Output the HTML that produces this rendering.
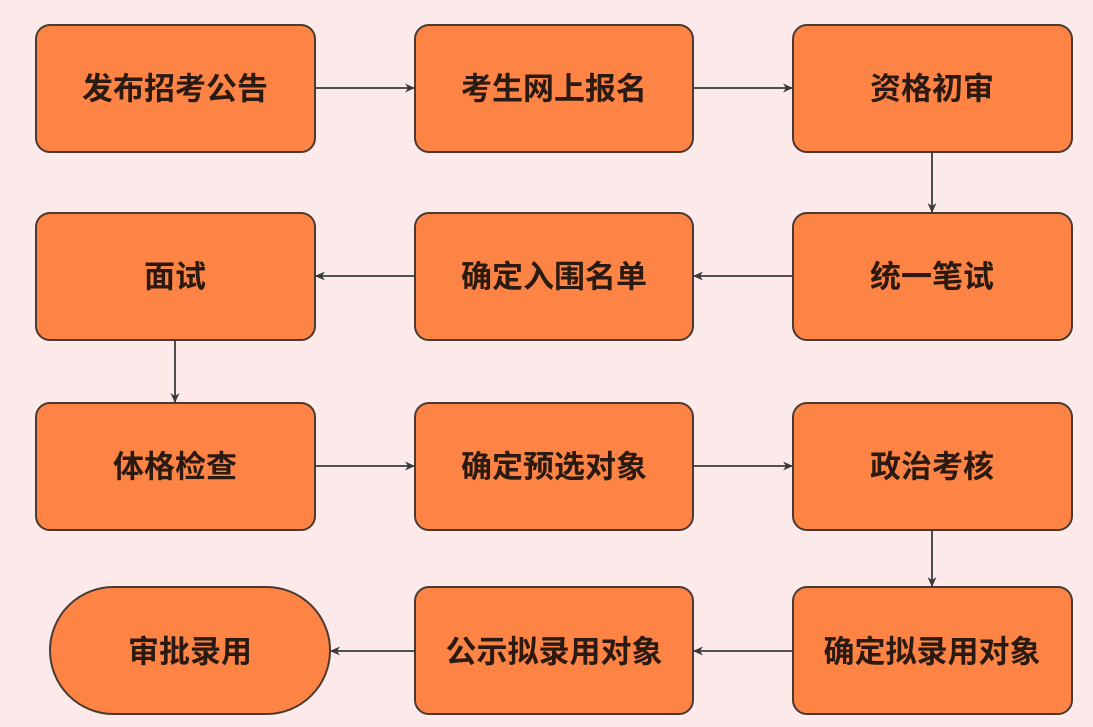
<!DOCTYPE html>
<html><head><meta charset="utf-8"><style>
html,body{margin:0;padding:0;background:#fceaea;}
svg{display:block;}
text{font-family:"Liberation Sans","Noto Sans CJK SC",sans-serif;font-size:31px;font-weight:bold;fill:#2a1a12;text-anchor:middle;dominant-baseline:central;}
</style></head><body>
<svg width="1093" height="727" viewBox="0 0 1093 727" xmlns="http://www.w3.org/2000/svg">
<defs><marker id="a" markerWidth="10" markerHeight="10" refX="9" refY="5" orient="auto" markerUnits="userSpaceOnUse"><path d="M0,0.5 L10,5 L0,9.5 L3,5 Z" fill="#3a3a3a"/></marker></defs>
<rect width="1093" height="727" fill="#fceaea"/>
<g fill="#fd8444" stroke="#4a3a32" stroke-width="2">
<rect x="36" y="25" width="279" height="127" rx="14"/>
<rect x="415" y="25" width="278" height="127" rx="14"/>
<rect x="793" y="25" width="279" height="127" rx="14"/>
<rect x="36" y="213" width="279" height="127" rx="14"/>
<rect x="415" y="213" width="278" height="127" rx="14"/>
<rect x="793" y="213" width="279" height="127" rx="14"/>
<rect x="36" y="403" width="279" height="127" rx="14"/>
<rect x="415" y="403" width="278" height="127" rx="14"/>
<rect x="793" y="403" width="279" height="127" rx="14"/>
<rect x="50" y="587" width="280" height="127" rx="63.5"/>
<rect x="415" y="587" width="278" height="127" rx="14"/>
<rect x="793" y="587" width="279" height="127" rx="14"/>
</g>
<g stroke="#3a3a3a" stroke-width="1.8" fill="none" marker-end="url(#a)">
<line x1="315" y1="88" x2="414" y2="88"/>
<line x1="693" y1="88" x2="792" y2="88"/>
<line x1="932" y1="152" x2="932" y2="212"/>
<line x1="793" y1="276" x2="694" y2="276"/>
<line x1="415" y1="276" x2="316" y2="276"/>
<line x1="175" y1="340" x2="175" y2="402"/>
<line x1="315" y1="466" x2="414" y2="466"/>
<line x1="693" y1="466" x2="792" y2="466"/>
<line x1="932" y1="530" x2="932" y2="586"/>
<line x1="793" y1="651" x2="694" y2="651"/>
<line x1="415" y1="651" x2="331" y2="651"/>
</g>
<text x="175" y="89">发布招考公告</text>
<text x="554" y="89">考生网上报名</text>
<text x="932" y="89">资格初审</text>
<text x="175" y="277">面试</text>
<text x="554" y="277">确定入围名单</text>
<text x="932" y="277">统一笔试</text>
<text x="175" y="467">体格检查</text>
<text x="554" y="467">确定预选对象</text>
<text x="932" y="467">政治考核</text>
<text x="190" y="652">审批录用</text>
<text x="554" y="652">公示拟录用对象</text>
<text x="932" y="652">确定拟录用对象</text>
</svg>
</body></html>
